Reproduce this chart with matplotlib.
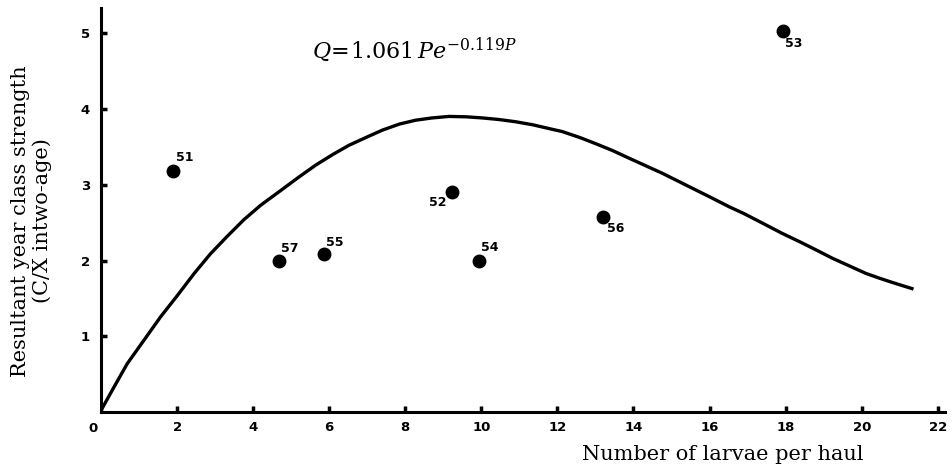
import matplotlib
matplotlib.use("Agg")
import matplotlib.pyplot as plt

# =====================================================
# DATA
# =====================================================

years = ["51", "57", "55", "52", "54", "56", "53"]
larvae = [1.88, 4.67, 5.85, 9.23, 9.94, 13.21, 17.93]
strength = [3.18, 2.00, 2.08, 2.91, 2.00, 2.57, 5.03]

# hand-drawn fitted curve, sampled along the line
curve_x = [0.0, 0.03, 0.34, 0.69, 1.13, 1.57, 2.01, 2.45, 2.88, 3.32,
           3.76, 4.2, 4.77, 5.2, 5.65, 6.1, 6.52, 7.0, 7.4, 7.85, 8.27,
           8.7, 9.15, 9.6, 10.03, 10.45, 10.9, 11.35, 11.78, 12.13, 12.6,
           13.01, 13.45, 13.88, 14.32, 14.76, 15.2, 15.64, 16.08, 16.51,
           16.9, 17.48, 17.9, 18.36, 18.8, 19.23, 19.67, 20.11, 20.45,
           20.81, 21.32]
curve_y = [0.0, 0.05, 0.33, 0.64, 0.95, 1.26, 1.54, 1.83, 2.09, 2.32,
           2.54, 2.73, 2.94, 3.10, 3.26, 3.40, 3.52, 3.63, 3.72, 3.80, 3.85,
           3.88, 3.90, 3.895, 3.88, 3.86, 3.83, 3.79, 3.74, 3.70, 3.62,
           3.54, 3.45, 3.35, 3.25, 3.15, 3.04, 2.93, 2.82, 2.71,
           2.62, 2.47, 2.36, 2.25, 2.14, 2.03, 1.93, 1.83, 1.77,
           1.71, 1.63]

x_ticks = [2, 4, 6, 8, 10, 12, 14, 16, 18, 20, 22]
y_ticks = [1, 2, 3, 4, 5]

# label offsets in pixels (dx, dy)
label_offsets = {
    "51": (12, 14), "57": (11, 12), "55": (11, 12), "52": (-14, -11),
    "54": (11, 13), "56": (12, -11), "53": (11, -13),
}

# =====================================================
# PLOT
# =====================================================

plt.rcParams["font.family"] = ["DejaVu Serif"]
plt.rcParams["mathtext.fontset"] = "dejavuserif"

fig = plt.figure(figsize=(9.53, 4.70), dpi=100)
ax = fig.add_axes([0.106, 0.123, 0.886, 0.860])

ax.plot(curve_x, curve_y, color="black", lw=2.4, solid_joinstyle="round")
ax.plot(larvae, strength, "o", color="black", ms=9)

for lab, x, y in zip(years, larvae, strength):
    dx, dy = label_offsets[lab]
    ax.annotate(lab, (x, y), xytext=(dx, dy), textcoords="offset pixels",
                ha="center", va="center", fontsize=9, fontweight="bold",
                family="DejaVu Sans")

ax.text(8.23, 4.78, r"$Q\!=\!1.061\,Pe^{-0.119P}$", ha="center",
        va="center", fontsize=16)

ax.set_xlim(0, 22.2)
ax.set_ylim(0, 5.33)

for side in ["top", "right"]:
    ax.spines[side].set_visible(False)
for side in ["left", "bottom"]:
    ax.spines[side].set_linewidth(2.2)

ax.set_xticks(x_ticks)
ax.set_yticks(y_ticks)
ax.set_xticklabels([str(t) for t in x_ticks], fontweight="bold",
                   family="DejaVu Sans", fontsize=9.5)
ax.set_yticklabels([str(t) for t in y_ticks], fontweight="bold",
                   family="DejaVu Sans", fontsize=9.5)
ax.tick_params(direction="in", length=4, width=2.5, pad=6)
ax.tick_params(axis="y", pad=8)
ax.text(-0.2, -0.22, "0", ha="center", va="center", fontsize=9.5,
        fontweight="bold", family="DejaVu Sans")

fig.text(0.758, 0.032, "Number of larvae per haul", ha="center",
         va="center", fontsize=15)
fig.text(0.033, 0.53, "Resultant year class strength\n(C/X intwo-age)",
         ha="center", va="center", rotation=90, fontsize=15,
         linespacing=1.1)

fig.savefig("out.png", dpi=100)
